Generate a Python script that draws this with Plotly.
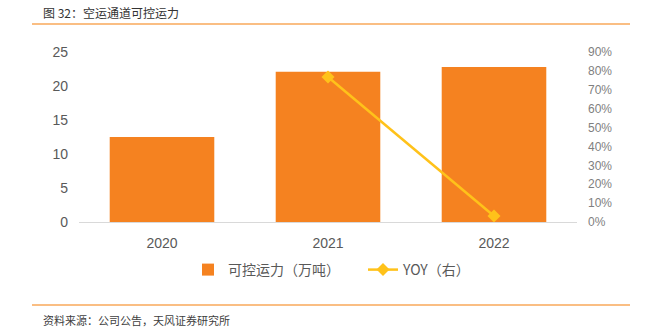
import plotly.graph_objects as go

years = ["2020", "2021", "2022"]
capacity = [12.5, 22.1, 22.8]          # 可控运力（万吨）
yoy = [None, 0.768, 0.032]             # YOY（右）

L, R, T, B = 79, 75, 52, 110
W, H = 652, 332
pw = W - L - R
ph = H - T - B

def px(X):
    return (X - L) / pw

def py(Y):
    return (H - B - Y) / ph

fig = go.Figure()
fig.add_trace(go.Bar(
    x=years, y=capacity, name="可控运力（万吨）",
    marker=dict(color="#F58220", line=dict(width=0)),
    yaxis="y",
))
fig.add_trace(go.Scatter(
    x=years, y=yoy, name="YOY（右）", mode="lines+markers",
    line=dict(color="#FFC21A", width=2.5),
    marker=dict(symbol="diamond", size=10, color="#FFC21A"),
    yaxis="y2",
))

tick_font = dict(family="Liberation Sans, Arial, sans-serif", size=14, color="#595959")
cjk = "Noto Sans CJK SC, sans-serif"

fig.update_layout(
    width=W, height=H,
    margin=dict(l=L, r=R, t=T, b=B, pad=0),
    paper_bgcolor="white", plot_bgcolor="white",
    bargap=0.37,
    showlegend=True,
    legend=dict(
        orientation="h", x=px(188), xanchor="left", y=py(270), yanchor="middle",
        font=dict(family=cjk, size=14, color="#595959"),
        itemwidth=30, traceorder="normal", entrywidth=130,
    ),
    xaxis=dict(
        showline=True, linecolor="#D9D9D9", linewidth=1,
        ticks="", tickfont=tick_font, showgrid=False,
        ticklabelstandoff=8,
    ),
    yaxis=dict(
        range=[0, 25], dtick=5, showgrid=False, zeroline=False,
        showline=False, ticks="", tickfont=tick_font,
        ticklabelstandoff=10,
    ),
    yaxis2=dict(
        range=[0, 0.9], dtick=0.1, tickformat=".0%", overlaying="y", side="right",
        showgrid=False, zeroline=False, showline=False, ticks="",
        tickfont=dict(family="Liberation Sans, Arial, sans-serif", size=12, color="#7F7F7F"),
        ticklabelstandoff=10,
    ),
    shapes=[
        dict(type="line", xref="paper", yref="paper", x0=px(32), x1=px(630),
             y0=py(24), y1=py(24), line=dict(color="#F9A85A", width=1.5)),
        dict(type="line", xref="paper", yref="paper", x0=px(32), x1=px(630),
             y0=py(305), y1=py(305), line=dict(color="#F9A85A", width=1.5)),
    ],
    annotations=[
        dict(text="图 32：空运通道可控运力", xref="paper", yref="paper",
             x=px(41), y=py(13), xanchor="left", yanchor="middle", showarrow=False,
             font=dict(family=cjk, size=12, color="#333333")),
        dict(text="资料来源：公司公告，天风证券研究所", xref="paper", yref="paper",
             x=px(41), y=py(320), xanchor="left", yanchor="middle", showarrow=False,
             font=dict(family=cjk, size=11, color="#404040")),
    ],
)

fig.write_html("out.html")
